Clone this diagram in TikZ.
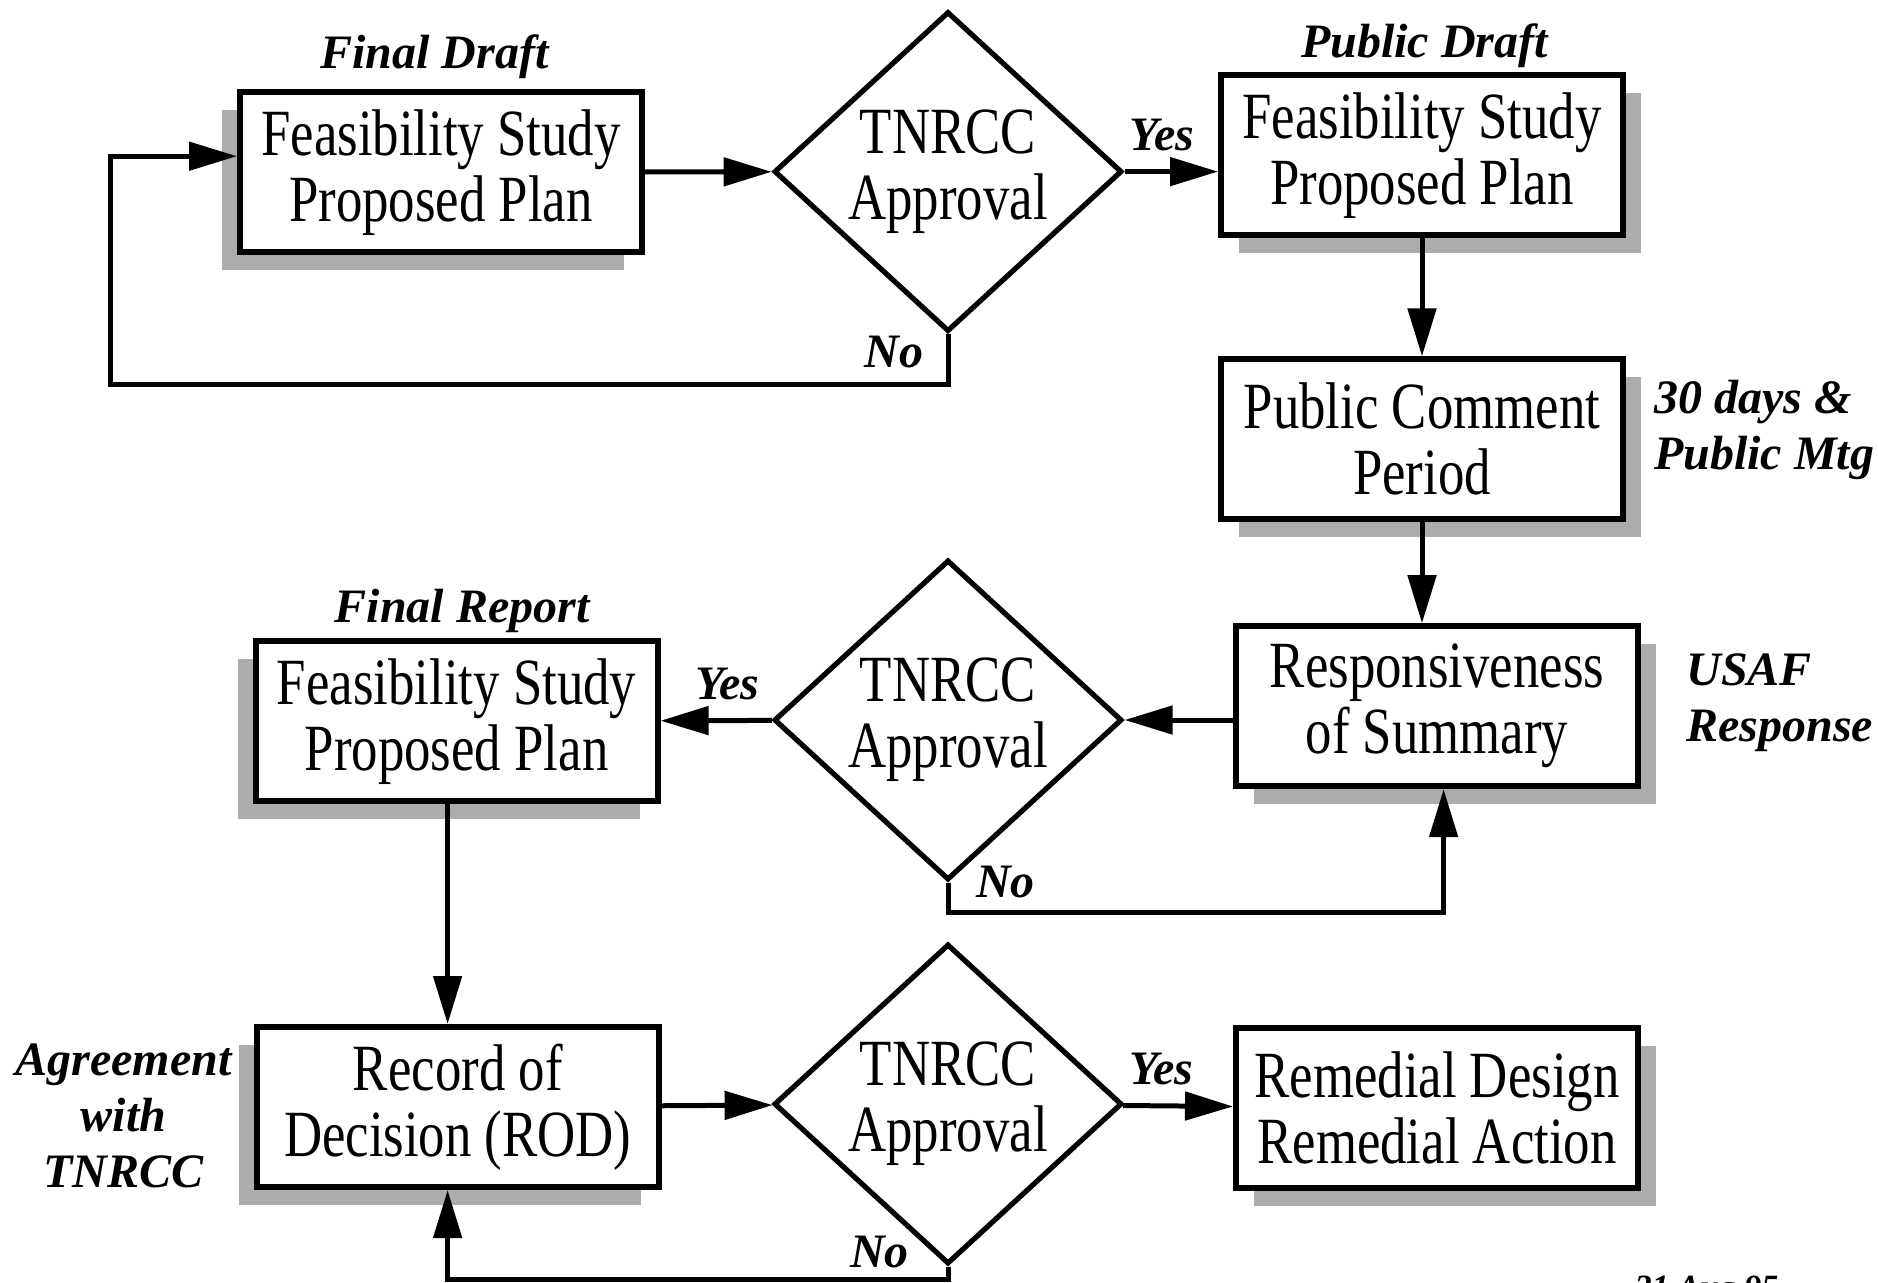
\documentclass[tikz,border=0pt]{standalone}
\usepackage{fontspec}
\setmainfont{Liberation Serif}
\newfontfamily\boxfont[FakeStretch=0.8]{Liberation Serif}
\usetikzlibrary{positioning, shapes.geometric, shadows, arrows.meta}

\tikzset{
  stage/.style={rectangle, draw, line width=3pt, fill=white, minimum width=201pt, minimum height=80pt, inner sep=0pt, align=center, font=\boxfont\fontsize{33}{33}\selectfont},
  lshade/.style={drop shadow={shadow xshift=-9pt, shadow yshift=-9pt, fill=gray!65, opacity=1}},
  rshade/.style={drop shadow={shadow xshift=9pt, shadow yshift=-9pt, fill=gray!65, opacity=1}},
  check/.style={diamond, draw, line width=2.6pt, aspect=1.09, minimum width=174pt, minimum height=160pt, inner sep=0pt, align=center, font=\boxfont\fontsize{33}{33}\selectfont},
  note/.style={font=\bfseries\itshape\fontsize{24}{28}\selectfont, align=center, inner sep=0pt},
  flow/.style={line width=2.5pt, -{Triangle[length=24pt, width=14pt]}}
}

\begin{document}
\begin{tikzpicture}[x=0.6pt, y=-0.6pt]
	\useasboundingbox (0,0) rectangle (1565,1069);
	% first round
	\node (fs1) [stage, lshade] at (367.5,143.5) {Feasibility Study\\Proposed Plan};
	\node (d1) [check] at (790,143) {TNRCC\\Approval};
	\node (fs2) [stage, rshade] at (1185,129.5) {Feasibility Study\\Proposed Plan};
	\node (pcp) [stage, rshade, below=59pt of fs2] {Public Comment\\Period};
	% second round
	\node (rs) [stage, rshade] at (1197.5,588.5) {Responsiveness\\of Summary};
	\node (d2) [check] at (790,600) {TNRCC\\Approval};
	\node (fs3) [stage, lshade] at (380.5,601) {Feasibility Study\\Proposed Plan};
	% decision
	\node (rod) [stage, lshade] at (381.5,922.5) {Record of\\Decision (ROD)};
	\node (d3) [check] at (790,920) {TNRCC\\Approval};
	\node (rdra) [stage, rshade] at (1197.5,923.5) {Remedial Design\\Remedial Action};

	\node (fd) [note, anchor=base] at (362,57) {Final Draft};
	\node (pd) [note, anchor=base] at (1187,48) {Public Draft};
	\node (fr) [note, anchor=base] at (385,519) {Final Report};
	\node (mtg) [note, anchor=west, align=left] at (1378,358) {30 days \&\\Public Mtg};
	\node (usaf) [note, anchor=west, align=left] at (1405,586) {USAF\\Response};
	\node (agr) [note] at (103,930) {Agreement\\with\\TNRCC};
	\node (date) [note, anchor=north west, font=\bfseries\itshape\fontsize{17}{20}\selectfont] at (1362,1063) {31 Aug 95};

	\coordinate (back1) at (92,320);
	\coordinate (back2) at (1203,760);
	\coordinate (back3) at (373,1066);

	\draw[flow] (fs1) -- (d1);
	\draw[flow] (d1.east) -- (d1.east -| fs2.west) node[note, pos=0.4, above=9pt] (y1) {Yes};
	\draw[flow] (d1.south) |- (back1) |- ([yshift=8pt]fs1.west);
	\node (n1) [note, anchor=base] at (745,306) {No};
	\draw[flow] (fs2) -- (pcp);
	\draw[flow] (pcp.south) -- (pcp.south |- rs.north);
	\draw[flow] (rs.west |- d2.east) -- (d2.east);
	\draw[flow] (d2) -- (fs3) node[note, pos=0.4, above=9pt] (y2) {Yes};
	\draw[flow] (d2.south) |- (back2) -- (back2 |- rs.south);
	\node (n2) [note, anchor=base] at (838,748) {No};
	\draw[flow] (fs3.south -| back3) -- (rod.north -| back3);
	\draw[flow] (rod) -- (d3);
	\draw[flow] (d3) -- (rdra) node[note, pos=0.35, above=9pt] (y3) {Yes};
	\draw[flow] (d3.south) |- (back3) -- (back3 |- rod.south);
	\node (n3) [note, anchor=base] at (733,1056) {No};
\end{tikzpicture}
\end{document}
